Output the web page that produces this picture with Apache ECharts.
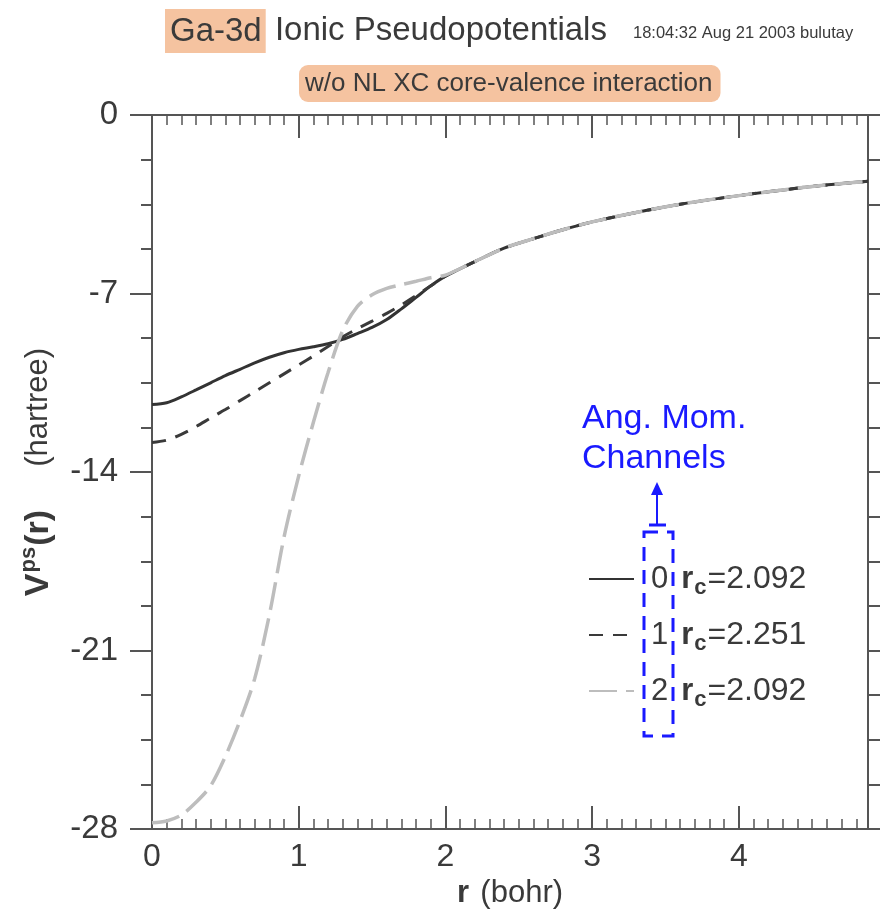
<!DOCTYPE html>
<html>
<head>
<meta charset="utf-8">
<script src="https://cdn.jsdelivr.net/npm/echarts@6/dist/echarts.min.js"></script>
<style>
  html, body { margin: 0; padding: 0; background: #fff; }
  #main { width: 881px; height: 914px; }
</style>
</head>
<body>
<div id="main"></div>
<script>
// r grid (bohr)
var rValues = [0, 0.1, 0.2, 0.3, 0.4, 0.5, 0.6, 0.7, 0.8, 0.9, 1.0, 1.1, 1.2, 1.3, 1.4, 1.5, 1.6, 1.7, 1.8, 1.9,
    2.0, 2.2, 2.4, 2.6, 2.8, 3.0, 3.3, 3.6, 3.9, 4.2, 4.5, 4.88];
// V_ps(r) per angular momentum channel (hartree)
var vChannel0 = [-11.35, -11.28, -11.05, -10.78, -10.50, -10.22, -9.97, -9.72, -9.50, -9.32, -9.19, -9.09, -8.97, -8.80, -8.57, -8.33, -8.02, -7.60, -7.15, -6.70,
    -6.32, -5.75, -5.22, -4.85, -4.50, -4.19, -3.82, -3.50, -3.24, -3.01, -2.80, -2.60];
var vChannel1 = [-12.84, -12.75, -12.52, -12.22, -11.88, -11.55, -11.20, -10.85, -10.50, -10.15, -9.80, -9.45, -9.08, -8.70, -8.38, -8.08, -7.78, -7.45, -7.08, -6.70,
    -6.32, -5.75, -5.22, -4.85, -4.50, -4.19, -3.82, -3.50, -3.24, -3.01, -2.80, -2.60];
var vChannel2 = [-27.75, -27.68, -27.45, -26.95, -26.30, -25.15, -23.75, -22.10, -19.60, -16.55, -14.15, -12.05, -10.10, -8.45, -7.50, -7.05, -6.80, -6.65, -6.52, -6.38,
    -6.28, -5.75, -5.22, -4.85, -4.50, -4.19, -3.82, -3.50, -3.24, -3.01, -2.80, -2.60];
var channelNames = ['0', '1', '2'];
var rcValues = ['2.092', '2.251', '2.092'];
var xTicks = [0, 1, 2, 3, 4];
var yTicks = [0, -7, -14, -21, -28];

var FONT = "'Liberation Sans', Arial, sans-serif";
var AXIS_COLOR = '#555';
var TEXT_COLOR = '#3a3a3a';
var HIGHLIGHT = '#f5c3a0';
var BLUE = '#1a1aff';

function pairs(vs) {
    return rValues.map(function (r, i) { return [r, vs[i]]; });
}

var myChart = echarts.init(document.getElementById('main'), null, { renderer: 'canvas' });

var baseX = {
    type: 'value',
    min: 0,
    max: 4.88,
    interval: 1,
    axisLine: { onZero: false, lineStyle: { color: AXIS_COLOR, width: 2 } },
    splitLine: { show: false },
    axisTick: { inside: true, length: 23, lineStyle: { color: AXIS_COLOR, width: 2 } },
    minorTick: { show: true, splitNumber: 10, length: 10, lineStyle: { color: AXIS_COLOR, width: 1.5 } },
    minorSplitLine: { show: false }
};
var baseY = {
    type: 'value',
    min: -28,
    max: 0,
    interval: 7,
    axisLine: { onZero: false, lineStyle: { color: AXIS_COLOR, width: 2 } },
    splitLine: { show: false },
    axisTick: { inside: false, length: 22, lineStyle: { color: AXIS_COLOR, width: 2 } },
    minorTick: { show: true, splitNumber: 4, length: 11, lineStyle: { color: AXIS_COLOR, width: 2 } },
    minorSplitLine: { show: false }
};

var option = {
    backgroundColor: '#fff',
    animation: false,
    textStyle: { fontFamily: FONT },
    title: [{
        text: '{hl|Ga-3d}{t| Ionic Pseudopotentials}',
        left: 160,
        top: 4,
        textStyle: {
            fontWeight: 'normal',
            rich: {
                hl: { fontSize: 33, fontWeight: 'normal', color: TEXT_COLOR, backgroundColor: HIGHLIGHT, padding: [6, 4, 5, 5], fontFamily: FONT },
                t: { fontSize: 33, fontWeight: 'normal', color: TEXT_COLOR, fontFamily: FONT }
            }
        }
    }, {
        text: '18:04:32 Aug 21 2003 bulutay',
        left: 628,
        top: 20,
        textStyle: { fontSize: 16.5, fontWeight: 'normal', color: TEXT_COLOR, fontFamily: FONT }
    }, {
        text: '{hl|w/o NL XC core-valence interaction}',
        left: 294,
        top: 60,
        textStyle: {
            fontWeight: 'normal',
            rich: {
                hl: {
                    fontSize: 26, fontWeight: 'normal', color: TEXT_COLOR, fontFamily: FONT,
                    backgroundColor: HIGHLIGHT, padding: [6, 8, 5, 6], borderRadius: 9
                }
            }
        }
    }],
    grid: { left: 152, right: 13, top: 115, bottom: 79 },
    legend: {
        orient: 'vertical',
        left: 583,
        top: 554,
        itemWidth: 45,
        itemHeight: 16,
        itemGap: 16,
        data: channelNames,
        itemStyle: { opacity: 0 },
        formatter: function (name) {
            var i = channelNames.indexOf(name);
            return '{n|' + name + '}{r|r}{c|c}{v|=' + rcValues[i] + '}';
        },
        textStyle: {
            rich: {
                n: { fontSize: 31, color: TEXT_COLOR, padding: [0, 13, 0, 12], lineHeight: 42, fontFamily: FONT },
                r: { fontSize: 31, fontWeight: 'bold', color: TEXT_COLOR, lineHeight: 42, fontFamily: FONT },
                c: { fontSize: 22, fontWeight: 'bold', color: TEXT_COLOR, padding: [18, 1, 0, 1], lineHeight: 42, fontFamily: FONT },
                v: { fontSize: 32, color: TEXT_COLOR, lineHeight: 42, fontFamily: FONT }
            }
        }
    },
    xAxis: [Object.assign({}, baseX, {
        position: 'bottom',
        name: '{b|r} {n|(bohr)}',
        nameLocation: 'middle',
        nameGap: 38,
        nameTextStyle: {
            rich: {
                b: { fontSize: 31, fontWeight: 'bold', color: TEXT_COLOR, fontFamily: FONT, padding: [0, 8, 0, 0] },
                n: { fontSize: 31, color: TEXT_COLOR, fontFamily: FONT }
            }
        },
        axisLabel: {
            margin: 12, fontSize: 32, color: TEXT_COLOR, showMaxLabel: false, fontFamily: FONT,
            formatter: function (v) { return xTicks.indexOf(v) >= 0 ? String(v) : ''; }
        }
    }), Object.assign({}, baseX, {
        position: 'top',
        axisLabel: { show: false }
    })],
    yAxis: [Object.assign({}, baseY, {
        position: 'left',
        name: '{b|V}{s|ps}{b|(r)}{n|     (hartree)}',
        nameLocation: 'middle',
        nameRotate: 90,
        nameGap: 92,
        nameTextStyle: {
            rich: {
                b: { fontSize: 34, fontWeight: 'bold', color: TEXT_COLOR, fontFamily: FONT, lineHeight: 42 },
                s: { fontSize: 22, fontWeight: 'bold', color: TEXT_COLOR, fontFamily: FONT, padding: [0, 1, 19, 1], lineHeight: 42 },
                n: { fontSize: 31, color: TEXT_COLOR, fontFamily: FONT, lineHeight: 42 }
            }
        },
        axisLabel: {
            margin: 34, fontSize: 33, color: TEXT_COLOR, fontFamily: FONT,
            formatter: function (v) { return yTicks.indexOf(v) >= 0 ? String(v) : ''; }
        }
    }), Object.assign({}, baseY, {
        position: 'right',
        axisLabel: { show: false },
        axisTick: { inside: false, length: 12, lineStyle: { color: AXIS_COLOR, width: 2 } },
        minorTick: { show: true, splitNumber: 4, length: 12, lineStyle: { color: AXIS_COLOR, width: 2 } }
    })],
    series: [{
        name: channelNames[0],
        type: 'line',
        data: pairs(vChannel0),
        smooth: 0.3,
        symbol: 'none',
        z: 3,
        itemStyle: { color: '#333' },
        lineStyle: { color: '#333', width: 3, type: 'solid' }
    }, {
        name: channelNames[1],
        type: 'line',
        data: pairs(vChannel1),
        smooth: 0.3,
        symbol: 'none',
        z: 4,
        itemStyle: { color: '#3a3a3a' },
        lineStyle: { color: '#3a3a3a', width: 3, type: [14, 10] }
    }, {
        name: channelNames[2],
        type: 'line',
        data: pairs(vChannel2),
        smooth: 0.3,
        symbol: 'none',
        z: 5,
        itemStyle: { color: '#bdbdbd' },
        lineStyle: { color: '#bdbdbd', width: 3.5, type: [28, 9] }
    }],
    graphic: [{
        type: 'text',
        left: 582,
        top: 399,
        style: { text: 'Ang. Mom.\nChannels', fill: BLUE, fontSize: 34, lineHeight: 40, fontFamily: FONT }
    }, {
        type: 'line',
        shape: { x1: 657, y1: 524, x2: 657, y2: 494 },
        style: { stroke: BLUE, lineWidth: 2 }
    }, {
        type: 'polygon',
        shape: { points: [[651, 495], [663, 495], [657, 482]] },
        style: { fill: BLUE }
    }, {
        type: 'line',
        shape: { x1: 649, y1: 525, x2: 666, y2: 525 },
        style: { stroke: BLUE, lineWidth: 3 }
    }, {
        type: 'rect',
        shape: { x: 644, y: 532, width: 29, height: 204 },
        style: { fill: 'none', stroke: BLUE, lineWidth: 3, lineDash: [14, 9] }
    }]
};

myChart.setOption(option);
</script>
</body>
</html>
